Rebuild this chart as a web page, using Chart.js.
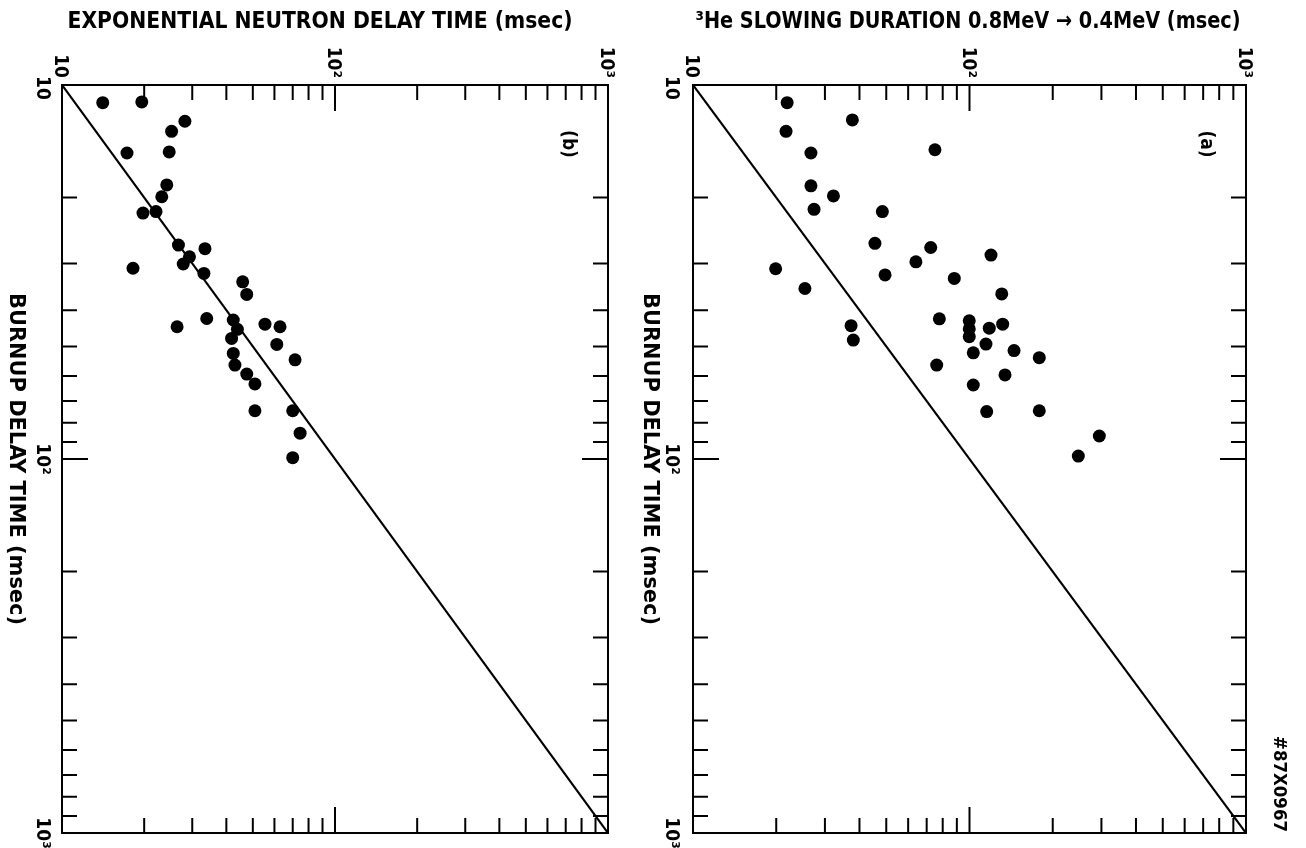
<!DOCTYPE html>
<html><head><meta charset="utf-8">
<script src="https://cdn.jsdelivr.net/npm/chart.js@4.4.0/dist/chart.umd.min.js"></script>
<style>
html,body{margin:0;padding:0;background:#fff;width:1306px;height:848px;overflow:hidden;}
canvas{display:block;position:absolute;left:0;top:0;}
</style></head><body>
<canvas id="cb" width="1306" height="848"></canvas>
<canvas id="ca" width="1306" height="848"></canvas>
<script>
// Panel (b): exponential neutron delay time vs burnup delay time (msec)
const neutronDelayB = [14.1,19.6,28.2,25.2,17.3,24.7,24.2,23.2,19.8,22.1,26.7,33.4,29.3,27.8,18.2,33.1,45.9,47.5,33.9,26.4,42.4,43.9,55.4,62.9,61.2,41.8,42.4,43.0,47.5,50.9,71.4,50.9,70.0,74.5,70.0];
const burnupDelayB  = [11.15,11.1,12.5,13.3,15.2,15.1,18.5,19.9,22.0,21.8,26.8,27.4,28.8,30.1,30.9,31.9,33.6,36.3,42.1,44.3,42.5,45.0,43.6,44.3,49.4,47.6,52.2,56.1,59.3,63.0,54.3,74.3,74.3,85.3,99.2];
// Panel (a): 3He slowing duration vs burnup delay time (msec)
const slowingDurationA = [21.9,37.7,21.7,75.0,26.7,26.7,32.2,27.4,48.4,45.5,72.4,119.6,64.0,19.9,49.5,88.1,25.4,130.8,77.8,37.3,38.0,99.8,99.8,99.8,103.2,117.9,131.8,114.7,76.1,103.2,115.4,134.4,144.9,178.8,178.8,294.8,247.5];
const burnupDelayA     = [11.15,12.4,13.3,14.9,15.2,18.6,19.8,21.5,21.8,26.5,27.2,28.5,29.7,31.0,32.2,32.9,35.0,36.2,42.2,44.0,48.1,42.7,44.9,47.1,52.0,44.7,43.6,49.3,56.1,63.4,74.7,59.6,51.3,53.6,74.3,86.8,98.2];
// Axis ticks
const decadeTicks = [10, 100, 1000];
const decadeLabels = ['10', '10²', '10³'];
const minorTicks = [20,30,40,50,60,70,80,90,200,300,400,500,600,700,800,900];
const identityLine = [10, 1000];
const titleB = 'EXPONENTIAL NEUTRON DELAY TIME (msec)';
const titleA = '³He SLOWING DURATION 0.8MeV → 0.4MeV (msec)';
const burnupTitle = 'BURNUP DELAY TIME (msec)';
const stampText = '#87X0967';

const FONT = '"Liberation Sans Narrow", "DejaVu Sans Condensed", "Liberation Sans", sans-serif';

function rotText(ctx, text, x, y, size, align, len) {
  ctx.save();
  ctx.translate(x, y);
  ctx.rotate(Math.PI / 2);
  ctx.font = 'bold ' + size + 'px ' + FONT;
  ctx.textAlign = align || 'center';
  ctx.textBaseline = 'middle';
  if (len) { const w = ctx.measureText(text).width; ctx.scale(len / w, 1); }
  ctx.fillText(text, 0, 0);
  ctx.restore();
}
function hText(ctx, text, cx, cy, size, len) {
  ctx.save();
  ctx.translate(cx, cy);
  ctx.font = 'bold ' + size + 'px ' + FONT;
  ctx.textAlign = 'center';
  ctx.textBaseline = 'middle';
  if (len) { const w = ctx.measureText(text).width; ctx.scale(len / w, 1); }
  ctx.fillText(text, 0, 0);
  ctx.restore();
}

function makeDecor(opt) {
  return {
    id: 'decor',
    afterDraw(chart) {
      const ctx = chart.ctx;
      const a = chart.chartArea;
      const xs = chart.scales.x, ys = chart.scales.y;
      ctx.save();
      ctx.strokeStyle = '#000';
      ctx.fillStyle = '#000';
      ctx.lineWidth = 2;
      ctx.strokeRect(a.left, a.top, a.right - a.left, a.bottom - a.top);
      ctx.beginPath();
      const ticks = minorTicks.concat([100]);
      ticks.forEach(v => {
        const L = v === 100 ? 26 : 15;
        const px = xs.getPixelForValue(v);
        ctx.moveTo(px, a.top); ctx.lineTo(px, a.top + L);
        ctx.moveTo(px, a.bottom); ctx.lineTo(px, a.bottom - L);
        const py = ys.getPixelForValue(v);
        ctx.moveTo(a.left, py); ctx.lineTo(a.left + L, py);
        ctx.moveTo(a.right, py); ctx.lineTo(a.right - L, py);
      });
      ctx.stroke();
      // tick labels (the figure is rotated by 90 degrees)
      decadeTicks.forEach((v, i) => {
        const px = xs.getPixelForValue(v);
        rotText(ctx, decadeLabels[i], px - 2, a.top - 7, 19, 'right');
        const py = ys.getPixelForValue(v);
        rotText(ctx, decadeLabels[i], opt.vLabelX, i === 0 ? py + 3 : py, 19, 'center');
      });
      hText(ctx, opt.title, opt.titleX, 22, 23, opt.titleLen);
      rotText(ctx, burnupTitle, opt.yTitleX, (a.top + a.bottom) / 2, 21, 'center', 332);
      rotText(ctx, opt.tag, a.right - 40, 144, 19, 'center');
      if (opt.stamp) rotText(ctx, opt.stamp, 1278, 784, 17, 'center', 96);
      ctx.restore();
    }
  };
}

function build(id, xv, yv, pad, opt) {
  const pts = xv.map((v, i) => ({ x: v, y: yv[i] }));
  return new Chart(document.getElementById(id), {
    data: {
      datasets: [
        { type: 'line', data: identityLine.map(v => ({ x: v, y: v })), borderColor: '#000', borderWidth: 2.2, pointRadius: 0, fill: false, order: 2 },
        { type: 'scatter', data: pts, backgroundColor: '#000', borderColor: '#000', pointRadius: 6.5, pointBorderWidth: 0, order: 1 }
      ]
    },
    options: {
      responsive: false,
      animation: false,
      events: [],
      layout: { padding: pad },
      plugins: { legend: { display: false }, tooltip: { enabled: false } },
      scales: {
        x: { type: 'logarithmic', min: 10, max: 1000, display: false },
        y: { type: 'logarithmic', min: 10, max: 1000, reverse: true, display: false }
      }
    },
    plugins: [makeDecor(opt)]
  });
}

build('cb', neutronDelayB, burnupDelayB, { left: 62, top: 85, right: 1306 - 608, bottom: 15 },
  { title: titleB, titleX: 320, titleLen: 505, vLabelX: 42, yTitleX: 15, tag: '(b)' });
build('ca', slowingDurationA, burnupDelayA, { left: 693, top: 85, right: 1306 - 1246, bottom: 15 },
  { title: titleA, titleX: 968, titleLen: 545, vLabelX: 671, yTitleX: 649, tag: '(a)', stamp: stampText });
</script>
</body></html>
